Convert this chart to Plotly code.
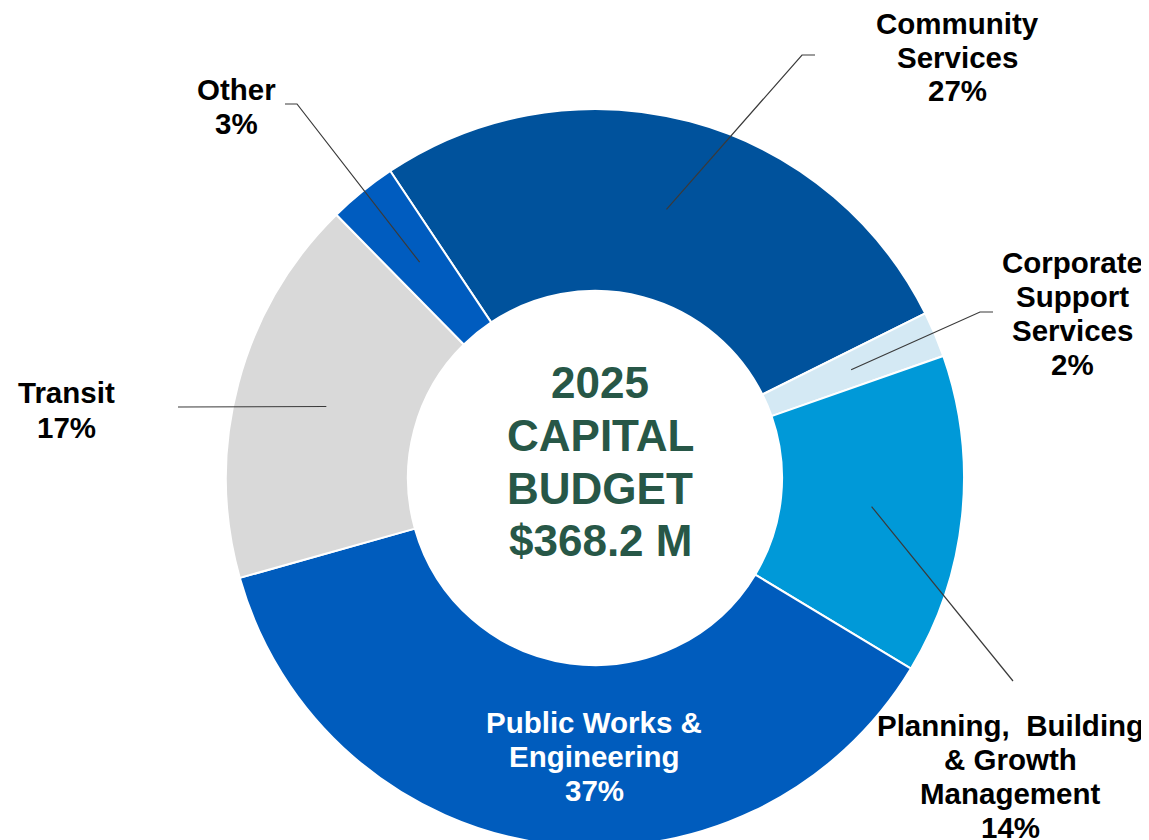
import math
import plotly.graph_objects as go

# ---- data ----
categories = [
    "Community Services",
    "Corporate Support Services",
    "Planning, Building & Growth Management",
    "Public Works & Engineering",
    "Transit",
    "Other",
]
shares = [27, 2, 14, 37, 17, 3]
label_lines = [
    ["Community", "Services"],
    ["Corporate", "Support", "Services"],
    ["Planning,  Building", "& Growth", "Management"],
    ["Public Works &", "Engineering"],
    ["Transit"],
    ["Other"],
]
center_lines = ["2025", "CAPITAL", "BUDGET", "$368.2 M"]

# ---- style / layout ----
colors = ["#00529c", "#d4e9f4", "#0099d8", "#005cbd", "#d9d9d9", "#005cbf"]
label_colors = ["#000000", "#000000", "#000000", "#ffffff", "#000000", "#000000"]
W, H = 1149, 840
OFF = 8  # default page (body) margin in the browser
FONT = "Liberation Sans, Arial, sans-serif"
rotation = -33.7
hole = 0.507

# desired pie centre / radius in window pixels
PCX, PCY, PR = 595, 478, 369

# label anchor positions (window pixels): centre x, first-line y
label_pos = [(957, 23), (1072, 262), (1010, 725), (594, 722), (66, 393), (236, 90)]
line_gap = 34
# leader line outer points (window pixels); None = no leader
leader_outer = [
    [(802, 55), (815, 55)],
    [(980, 312), (993, 312)],
    [(1013, 681)],
    None,
    [(178, 407)],
    [(297, 104), (285, 104)],
]
center_y = [382, 435, 488, 540]
center_x = 600


def px2paper(x, y):
    return (x - OFF) / W, 1 - (y - OFF) / H


fcx, fcy = PCX - OFF, PCY - OFF
dom_x = [(fcx - PR) / W, (fcx + PR) / W]
dom_y = [max(0.0, 1 - (fcy + PR) / H), 1 - (fcy - PR) / H]

fig = go.Figure(
    go.Pie(
        labels=categories,
        values=shares,
        sort=False,
        direction="clockwise",
        rotation=rotation,
        hole=hole,
        textinfo="none",
        marker=dict(colors=colors, line=dict(color="#ffffff", width=2)),
        domain=dict(x=dom_x, y=dom_y),
        hoverinfo="label+percent",
    )
)

# actual pie geometry (window pixels)
R = min((dom_x[1] - dom_x[0]) * W, (dom_y[1] - dom_y[0]) * H) / 2
cx = (dom_x[0] + dom_x[1]) / 2 * W + OFF
cy = (1 - (dom_y[0] + dom_y[1]) / 2) * H + OFF
rm = (R + R * hole) / 2

total = sum(shares)
cum = 0
shapes = []
annotations = []
for i, v in enumerate(shares):
    mid = rotation + (cum + v / 2) / total * 360
    cum += v
    a = math.radians(mid)
    sx, sy = cx + rm * math.sin(a), cy - rm * math.cos(a)
    if leader_outer[i]:
        pts = [(sx, sy)] + leader_outer[i]
        path = ""
        for j, (x, y) in enumerate(pts):
            X, Y = px2paper(x, y)
            path += ("M" if j == 0 else " L") + f" {X:.5f},{Y:.5f}"
        shapes.append(dict(type="path", path=path, xref="paper", yref="paper",
                           line=dict(color="#3a3a3a", width=1.2)))
    lines = label_lines[i] + [f"{v}%"]
    lx, ly = label_pos[i]
    for k, t in enumerate(lines):
        X, Y = px2paper(lx, ly + k * line_gap)
        annotations.append(dict(text=t, x=X, y=Y, xref="paper", yref="paper",
                                xanchor="center", yanchor="middle", showarrow=False,
                                font=dict(family=FONT, size=29.5, color=label_colors[i],
                                          weight="bold")))

for t, y in zip(center_lines, center_y):
    X, Y = px2paper(center_x, y)
    annotations.append(dict(text=t, x=X, y=Y, xref="paper", yref="paper",
                            xanchor="center", yanchor="middle", showarrow=False,
                            font=dict(family=FONT, size=44, color="#275747",
                                      weight="bold")))

fig.update_layout(
    width=W, height=H,
    margin=dict(l=0, r=0, t=0, b=0),
    paper_bgcolor="#ffffff", plot_bgcolor="#ffffff",
    showlegend=False,
    shapes=shapes,
    annotations=annotations,
)

fig.write_html("out.html")
